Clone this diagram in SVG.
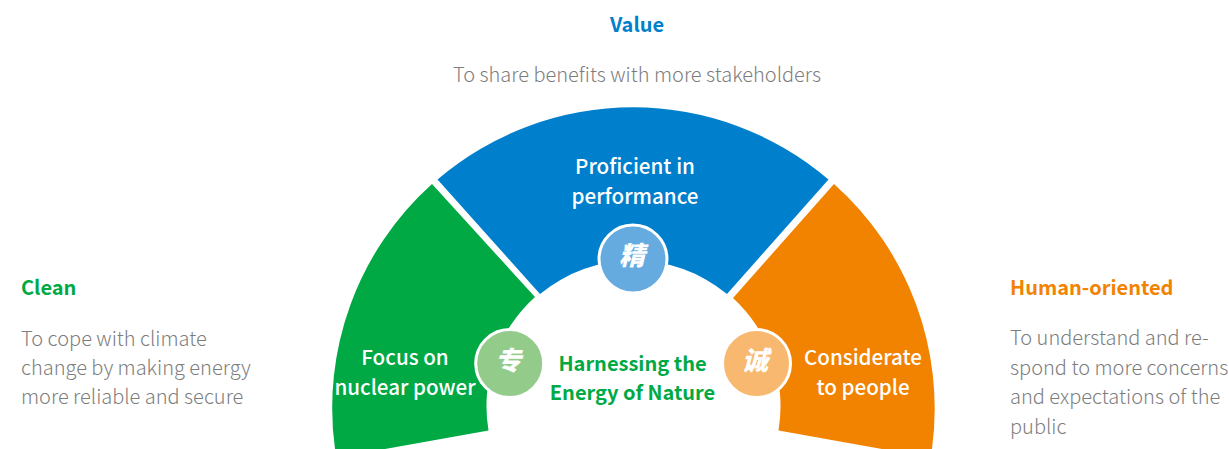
<svg xmlns="http://www.w3.org/2000/svg" width="1229" height="449" viewBox="0 0 1229 449">
<style>
text{font-family:"Noto Sans CJK SC","Noto Sans",sans-serif}
.h{font-size:20px;font-weight:700}
.d{font-size:20px;fill:#7d7d7d;font-weight:300}
.w{font-size:20.600px;fill:#fff;font-weight:500;text-anchor:middle}
.c{font-size:20px;fill:#00a944;font-weight:700;text-anchor:middle}
.b{stroke:#fff;stroke-width:3}
.g{font-size:26px;font-weight:900;fill:#fff;text-anchor:middle;font-style:italic}
</style>
<rect width="1229" height="449" fill="#fff"/>
<g id="connectors"/>
<g id="value-text">
<text class="h" x="637" y="32" text-anchor="middle" fill="#0080cc">Value</text>
<text class="d" x="637" y="82" text-anchor="middle">To share benefits with more stakeholders</text>
</g>
<g id="clean-text">
<text class="h" x="21" y="295" fill="#00a944">Clean</text>
<text class="d" x="21" y="346">To cope with climate</text>
<text class="d" x="21" y="375">change by making energy</text>
<text class="d" x="21" y="404">more reliable and secure</text>
</g>
<g id="human-text">
<text class="h" x="1010" y="295" fill="#f28300">Human-oriented</text>
<text class="d" x="1010" y="345">To understand and re-</text>
<text class="d" x="1010" y="375">spond to more concerns</text>
<text class="d" x="1010" y="404">and expectations of the</text>
<text class="d" x="1010" y="434">public</text>
</g>
<g id="green">
<path d="M432 184A301 301 0 0 0 335 449L385 449L488.500 430.500A147 147 0 0 1 535 297Z" fill="#00a944"/>
<text class="w" x="405" y="365">Focus on</text>
<text class="w" x="405" y="395">nuclear power</text>
</g>
<g id="blue">
<path d="M437.500 179.500A301 301 0 0 1 828.500 179.500L727 294A147 147 0 0 0 540 294Z" fill="#0080cc"/>
<text class="w" x="635" y="174">Proficient in</text>
<text class="w" x="635" y="204">performance</text>
</g>
<g id="orange">
<path d="M834 184A301 301 0 0 1 932 449L882 449L778.500 430.500A147 147 0 0 0 733 298Z" fill="#f28300"/>
<text class="w" x="863" y="365">Considerate</text>
<text class="w" x="863" y="395">to people</text>
</g>
<g id="center"><text class="c" x="632.500" y="371">Harnessing the</text><text class="c" x="632.500" y="400">Energy of Nature</text></g>
<g id="badge-jing"><circle class="b" cx="633" cy="259" r="34" fill="#66abe0"/><text class="g" x="632" y="265">精</text></g>
<g id="badge-zhuan"><circle class="b" cx="509.700" cy="363.500" r="34" fill="#93cb8b"/><text class="g" x="508" y="370">专</text></g>
<g id="badge-cheng"><circle class="b" cx="756.500" cy="363.500" r="34" fill="#f8b86f"/><text class="g" x="755" y="370">诚</text></g>
</svg>
